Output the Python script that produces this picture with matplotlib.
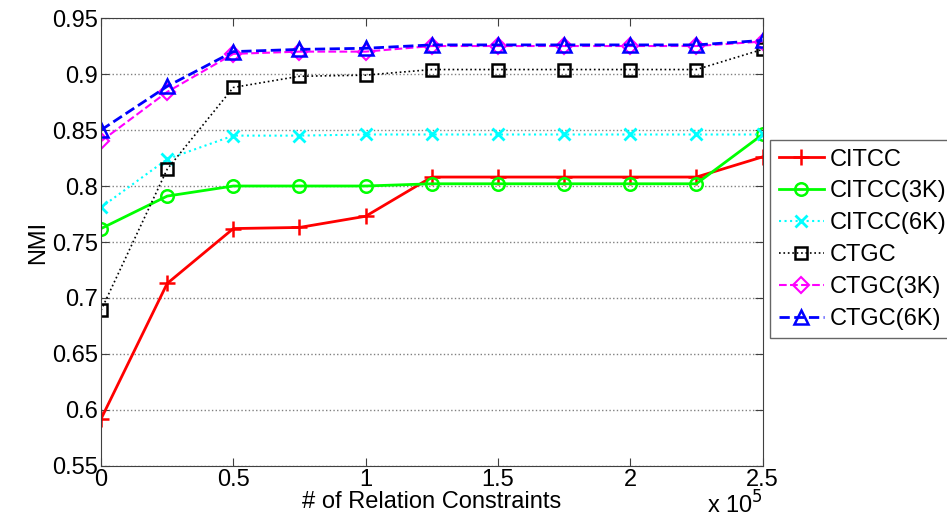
import matplotlib
matplotlib.use("Agg")
import matplotlib.pyplot as plt
import numpy as np

plt.rcParams["font.family"] = ["Liberation Sans", "DejaVu Sans"]

# number of relation constraints (x 1e5)
constraints = [0, 0.25, 0.5, 0.75, 1.0, 1.25, 1.5, 1.75, 2.0, 2.25, 2.5]

citcc = [0.592, 0.713, 0.762, 0.763, 0.773, 0.808, 0.808, 0.808, 0.808, 0.808, 0.826]
citcc_3k = [0.762, 0.791, 0.800, 0.800, 0.800, 0.802, 0.802, 0.802, 0.802, 0.802, 0.846]
citcc_6k = [0.781, 0.824, 0.845, 0.845, 0.846, 0.846, 0.846, 0.846, 0.846, 0.846, 0.846]
ctgc = [0.689, 0.815, 0.888, 0.898, 0.899, 0.904, 0.904, 0.904, 0.904, 0.904, 0.922]
ctgc_3k = [0.840, 0.884, 0.918, 0.920, 0.920, 0.925, 0.925, 0.925, 0.925, 0.925, 0.929]
ctgc_6k = [0.850, 0.889, 0.920, 0.922, 0.923, 0.926, 0.926, 0.926, 0.926, 0.926, 0.930]

x_ticks = [0, 0.5, 1, 1.5, 2, 2.5]
y_ticks = [0.55, 0.6, 0.65, 0.7, 0.75, 0.8, 0.85, 0.9, 0.95]

x = np.array(constraints) * 1e5
fs = 17

fig = plt.figure(figsize=(9.47, 5.21), dpi=100)
ax = fig.add_axes([0.1067, 0.1056, 0.6985, 0.8598])

ax.plot(x, citcc, color="red", ls="-", lw=2, marker="+", ms=12, mew=1.8, label="CITCC")
ax.plot(x, citcc_3k, color="#00ff00", ls="-", lw=2, marker="o", ms=9, mfc="none", mew=1.8, label="CITCC(3K)")
ax.plot(x, citcc_6k, color="cyan", ls=":", lw=1.5, marker="x", ms=8, mew=2, label="CITCC(6K)")
ax.plot(x, ctgc, color="black", ls=":", lw=1.2, marker="s", ms=9, mfc="none", mew=1.8, label="CTGC")
ax.plot(x, ctgc_3k, color="magenta", ls="--", lw=1.5, marker="D", ms=8, mfc="none", mew=1.5, label="CTGC(3K)")
ax.plot(x, ctgc_6k, color="blue", ls="--", lw=2, marker="^", ms=10, mfc="none", mew=1.8, label="CTGC(6K)")

ax.set_xlim(0, 2.5e5)
ax.set_ylim(0.55, 0.95)
ax.set_xticks(np.array(x_ticks) * 1e5)
ax.set_xticklabels([f"{t:g}" for t in x_ticks])
ax.set_yticks(y_ticks)
ax.set_yticklabels([f"{t:g}" for t in y_ticks])
ax.yaxis.grid(True, ls=":", color="#808080", lw=1)
ax.tick_params(direction="in", top=True, right=True, labelsize=fs, length=6, pad=2, color="#404040")
for s in ax.spines.values():
    s.set_color("#404040")

ax.set_xlabel("# of Relation Constraints", fontsize=fs, labelpad=0)
ax.set_ylabel("NMI", fontsize=fs, labelpad=2)
fig.text(763 / 947, 0.004, r"x 10$^{5}$", ha="right", va="bottom", fontsize=fs)

leg = ax.legend(loc="upper left", bbox_to_anchor=(1.012, 0.727), fontsize=fs, frameon=True,
                fancybox=False, edgecolor="#404040", borderpad=0.35, handlelength=1.9,
                handletextpad=0.25, labelspacing=0.42, borderaxespad=0)
leg.get_frame().set_linewidth(1)

fig.savefig("out.png", dpi=100)
